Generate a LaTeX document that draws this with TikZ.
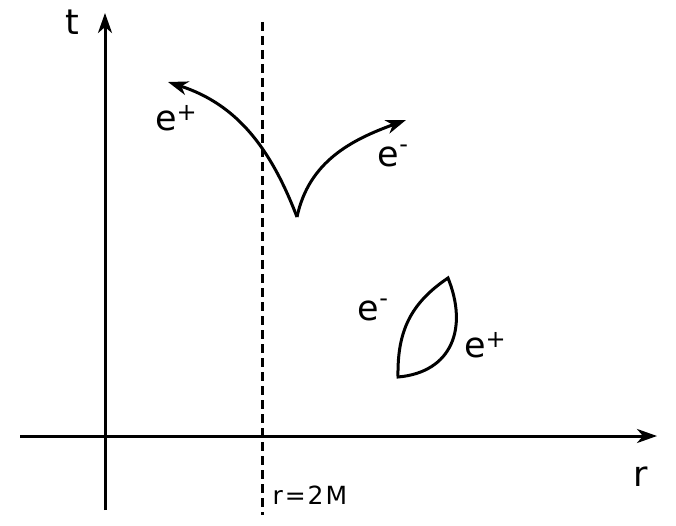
\documentclass[tikz,border=0pt]{standalone}
\usepackage{fontspec}
\setmainfont{DejaVu Sans}
\usetikzlibrary{arrows.meta}

\newcommand{\chpos}{\raisebox{0.55ex}{\fontsize{24}{24}\selectfont +}}
\newcommand{\chneg}{\raisebox{0.75ex}{\fontsize{24}{24}\selectfont -}}

\begin{document}
\begin{tikzpicture}[x=1pt,y=1pt,>={Stealth[length=20pt,width=14pt,inset=6pt]},line width=3pt]
    \useasboundingbox (0,0) rectangle (676,525);
    \tikzset{lbl/.style={inner sep=0pt,font=\fontsize{35}{35}\selectfont}}
    % axes
    \coordinate (tb) at (105,15);
    \coordinate (tt) at (105,512);
    \coordinate (rl) at (20,89);
    \coordinate (rr) at (657,89);
    \path[->](tb) edge (tt);
    \path[->](rl) edge (rr);
    \node[lbl] (t) at (72,503) {t};
    \node[lbl] (r) at (641,48) {r};
    % horizon
    \coordinate (ht) at (262,503);
    \coordinate (hb) at (262,10);
    \path[-,dash pattern=on 9pt off 5pt](ht) edge (hb);
    \node[lbl,anchor=west,font=\fontsize{25}{25}\selectfont] (h) at (271,30)
        {r\kern2pt=\kern2pt2\kern2pt M};
    % pair created outside
    \coordinate (c) at (297,308);
    \coordinate (pl) at (168,443);
    \coordinate (pr) at (406,405);
    \path[->](c) edge[out=111,in=-18] (pl);
    \path[->](c) edge[out=78,in=200] (pr);
    \node[lbl] (ep1) at (176,407) {e\chpos};
    \node[lbl] (em1) at (393,369) {e\chneg};
    % loop
    \coordinate (lb) at (398,148);
    \coordinate (lt) at (448,247);
    \draw (lb) to[out=91,in=214,looseness=1.05] (lt)
        to[out=-68,in=5,looseness=1.25] (lb) -- cycle;
    \node[lbl] (em2) at (373,215) {e\chneg};
    \node[lbl] (ep2) at (485,180) {e\chpos};
\end{tikzpicture}
\end{document}
